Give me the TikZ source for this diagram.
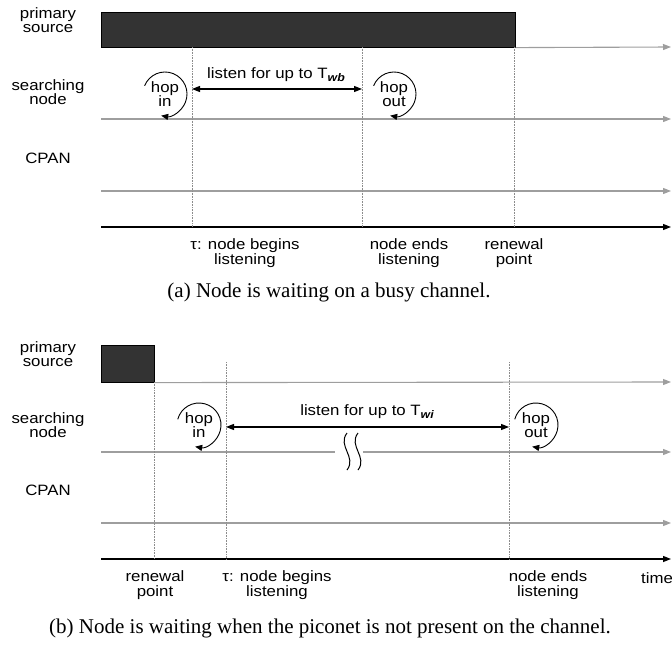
\documentclass[tikz,border=0pt]{standalone}
\usepackage{fontspec}
\setmainfont{Liberation Sans}
\newfontfamily\lblfont{Liberation Sans}[FakeStretch=1.12]
\newfontfamily\capfont{Liberation Serif}
\usetikzlibrary{arrows.meta}
\definecolor{lgray}{gray}{0.62}
\definecolor{dotgray}{gray}{0.55}
\tikzset{
  lbl/.style={font=\lblfont\fontsize{15}{14.5}\selectfont, align=center, inner sep=0pt},
  captxt/.style={font=\capfont\fontsize{21}{24}\selectfont, inner sep=0pt},
  chan/.style={draw=lgray, line width=1.1pt, -{Triangle[length=8pt,width=6pt]}},
  chanplain/.style={draw=lgray, line width=1.1pt},
  taxis/.style={draw=black, line width=1.3pt, -{Triangle[length=8pt,width=6pt]}},
  vdot/.style={draw=dotgray, line width=0.7pt, dash pattern=on 0.8pt off 0.8pt},
  dbl/.style={draw=black, line width=1.2pt, {Triangle[length=8pt,width=6pt]}-{Triangle[length=8pt,width=6pt]}},
  hoparc/.style={draw=black, line width=0.9pt, -{Triangle[length=7pt,width=6pt]}},
  busybar/.style={fill=black!80, draw=black, line width=0.6pt, inner sep=0pt, anchor=north west},
  wave/.style={draw=black, line width=1pt}
}
\newcommand{\subtxt}[1]{\raisebox{-0.35ex}{\fontsize{11}{11}\selectfont\bfseries\itshape #1}}
\begin{document}
\begin{tikzpicture}[x=1pt,y=1pt]
\useasboundingbox (0,0) rectangle (672,-645);

% ---------------- panel (a) ----------------
\node[lbl] (ps1) at (48,-20) {primary\\source};
\node[lbl] (sn1) at (48,-92) {searching\\node};
\node[lbl] (cp1) at (48,-158) {CPAN};

\node[busybar, minimum width=414pt, minimum height=35pt] (bar1) at (101,-12) {};
\coordinate (a-ps-e) at (671,-47);
\draw[chan] (bar1.south east) -- (a-ps-e);

\coordinate (a-sn-s) at (101,-119); \coordinate (a-sn-e) at (671,-119);
\draw[chan] (a-sn-s) -- (a-sn-e);
\coordinate (a-cp-s) at (101,-191); \coordinate (a-cp-e) at (671,-191);
\draw[chan] (a-cp-s) -- (a-cp-e);
\coordinate (a-ax-s) at (101,-227); \coordinate (a-ax-e) at (671,-227);
\draw[taxis] (a-ax-s) -- (a-ax-e);

\coordinate (a-t1) at (192,-47); \coordinate (a-b1) at (192,-227);
\coordinate (a-t2) at (362,-47); \coordinate (a-b2) at (362,-227);
\coordinate (a-t3) at (514,-47); \coordinate (a-b3) at (514,-227);
\draw[vdot] (a-t1) -- (a-b1);
\draw[vdot] (a-t2) -- (a-b2);
\draw[vdot] (a-t3) -- (a-b3);

\coordinate (a-l-s) at (192,-89); \coordinate (a-l-e) at (362,-89);
\draw[dbl] (a-l-s) -- (a-l-e);
\node[lbl] (a-listen) at (276,-75) {listen for up to T\subtxt{wb}};

\node[lbl] (a-hopin) at (165,-94) {hop\\in};
\draw[hoparc] (a-hopin.center) ++(158:22) arc[start angle=158, end angle=-100, radius=22];
\node[lbl] (a-hopout) at (394,-94) {hop\\out};
\draw[hoparc] (a-hopout.center) ++(158:22) arc[start angle=158, end angle=-100, radius=22];

\node[lbl] (a-tau) at (245,-253) {τ: node begins\\listening};
\node[lbl] (a-end) at (409,-253) {node ends\\listening};
\node[lbl] (a-ren) at (514,-253) {renewal\\point};

\node[captxt] (capa) at (329,-292) {(a) Node is waiting on a busy channel.};

% ---------------- panel (b) ----------------
\node[lbl] (ps2) at (48,-354) {primary\\source};
\node[lbl] (sn2) at (48,-425) {searching\\node};
\node[lbl] (cp2) at (48,-490) {CPAN};

\node[busybar, minimum width=53pt, minimum height=37pt] (bar2) at (101,-345) {};
\coordinate (b-ps-e) at (671,-382);
\draw[chan] (bar2.south east) -- (b-ps-e);

\coordinate (b-sn-s) at (101,-452); \coordinate (b-gap-l) at (335,-452);
\coordinate (b-gap-r) at (363,-452); \coordinate (b-sn-e) at (671,-452);
\draw[chanplain] (b-sn-s) -- (b-gap-l);
\draw[chan] (b-gap-r) -- (b-sn-e);
\coordinate (b-cp-s) at (101,-523); \coordinate (b-cp-e) at (671,-523);
\draw[chan] (b-cp-s) -- (b-cp-e);
\coordinate (b-ax-s) at (101,-559); \coordinate (b-ax-e) at (671,-559);
\draw[taxis] (b-ax-s) -- (b-ax-e);

\coordinate (b-w1t) at (347,-433); \coordinate (b-w1b) at (347,-470);
\coordinate (b-w2t) at (358,-433); \coordinate (b-w2b) at (358,-470);
\draw[wave] (b-w1t) .. controls (337,-446) and (357,-457) .. (b-w1b);
\draw[wave] (b-w2t) .. controls (348,-446) and (368,-457) .. (b-w2b);

\coordinate (b-t1) at (154,-382); \coordinate (b-b1) at (154,-559);
\coordinate (b-t2) at (226,-362); \coordinate (b-b2) at (226,-559);
\coordinate (b-t3) at (509,-362); \coordinate (b-b3) at (509,-559);
\draw[vdot] (b-t1) -- (b-b1);
\draw[vdot] (b-t2) -- (b-b2);
\draw[vdot] (b-t3) -- (b-b3);

\coordinate (b-l-s) at (226,-427); \coordinate (b-l-e) at (509,-427);
\draw[dbl] (b-l-s) -- (b-l-e);
\node[lbl] (b-listen) at (367,-412) {listen for up to T\subtxt{wi}};

\node[lbl] (b-hopin) at (199,-425) {hop\\in};
\draw[hoparc] (b-hopin.center) ++(165:22) arc[start angle=165, end angle=-100, radius=22];
\node[lbl] (b-hopout) at (536,-425) {hop\\out};
\draw[hoparc] (b-hopout.center) ++(165:22) arc[start angle=165, end angle=-100, radius=22];

\node[lbl] (b-ren) at (155,-585) {renewal\\point};
\node[lbl] (b-tau) at (277,-585) {τ: node begins\\listening};
\node[lbl] (b-end) at (548,-585) {node ends\\listening};
\node[lbl, anchor=west] (b-time) at (641,-578) {time};

\node[captxt] (capb) at (330,-628) {(b) Node is waiting when the piconet is not present on the channel.};
\end{tikzpicture}
\end{document}
